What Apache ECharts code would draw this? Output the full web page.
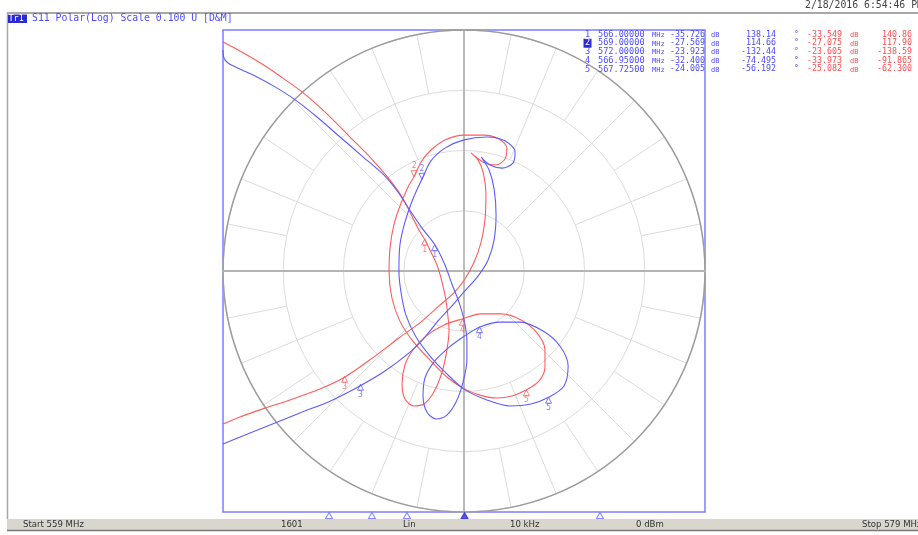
<!DOCTYPE html>
<html><head><meta charset="utf-8">
<script src="https://cdn.jsdelivr.net/npm/echarts@6/dist/echarts.min.js"></script>
<style>html,body{margin:0;padding:0;background:#fff}#c{width:918px;height:535px}</style>
</head><body><div id="c"></div>
<script>
// ---------- data ----------
const startFreqMHz = 559, stopFreqMHz = 579;
const fullScaleMilliU = 100;               // Scale 0.100 U (values below in mU)
const gridCircles = [25, 50, 75, 100];
const markerIds = [1, 2, 3, 4, 5];
const markerFreqMHz = [566, 569, 572, 566.95, 567.725];
const blueMagDb = [-35.726, -27.569, -23.923, -32.400, -24.005];
const bluePhaseDeg = [138.14, 114.66, -132.44, -74.495, -56.192];
const redMagDb = [-33.549, -27.075, -23.605, -33.973, -25.082];
const redPhaseDeg = [140.86, 117.90, -138.59, -91.865, -62.300];
const activeMarker = 2;
const statusTexts = ['Start 559 MHz', '1601', 'Lin', '10 kHz', '0 dBm', 'Stop 579 MHz'];

// S11 traces, [real, imag] in mU
const redTrace = [[-100.0,95.0],[-93.0,91.3],[-85.1,86.7],[-76.4,80.9],[-67.2,74.3],[-57.3,65.6],[-47.7,56.0],[-39.0,47.3],[-31.1,38.2],[-25.7,30.7],[-21.6,22.8],[-18.7,17.0],[-16.2,12.9],[-13.7,7.9],[-11.2,2.5],[-9.1,-4.6],[-7.5,-12.0],[-6.6,-19.5],[-6.2,-24.5],[-7.1,-32.8],[-9.1,-41.9],[-12.5,-50.2],[-16.6,-55.2],[-20.8,-56.0],[-24.5,-53.1],[-25.7,-46.9],[-24.5,-39.0],[-21.2,-32.8],[-15.8,-27.0],[-8.3,-22.4],[-0.8,-19.9],[7.1,-17.8],[15.4,-17.8],[23.7,-20.3],[30.3,-25.7],[33.6,-32.8],[33.6,-39.8],[31.1,-45.7],[25.7,-49.4],[19.9,-51.9],[13.7,-52.7],[6.6,-51.5],[-0.4,-48.6],[-7.1,-44.0],[-13.3,-37.8],[-21.2,-29.1],[-26.6,-20.8],[-29.9,-11.2],[-31.1,0],[-30.7,9.5],[-29.1,19.1],[-26.1,28.2],[-22.8,35.7],[-20.8,39.0],[-17.8,45.2],[-13.7,50.2],[-7.9,54.4],[0,56.4],[8.3,56.4],[14.5,54.8],[17.8,51.0],[17.0,46.5],[13.3,44.0],[8.7,44.8],[5.0,47.3],[2.9,49.0],[5.8,46.1],[7.9,41.1],[9.1,31.5],[8.7,21.2],[7.1,12.0],[4.2,3.7],[0.4,-3.3],[-4.2,-9.1],[-10.4,-14.5],[-17.4,-20.8],[-27.0,-27.8],[-36.9,-35.3],[-49.4,-44.0],[-59.8,-49.0],[-72.2,-53.5],[-82.6,-56.9],[-93.0,-60.6],[-100.0,-63.5]];
const blueTrace = [[-100.0,91.7],[-99.6,88.4],[-97.9,86.3],[-93.0,83.8],[-86.7,80.9],[-78.4,76.4],[-70.6,71.4],[-61.0,63.9],[-51.9,56.0],[-42.3,47.7],[-32.8,39.4],[-27.4,32.8],[-22.8,25.7],[-17.4,17.8],[-12.0,10.8],[-7.9,2.5],[-5.0,-5.4],[-2.1,-12.9],[0,-20.3],[1.2,-28.6],[1.2,-36.9],[-0.4,-46.1],[-3.3,-54.4],[-7.1,-59.8],[-11.6,-61.4],[-15.4,-58.5],[-17.0,-51.9],[-16.2,-44.4],[-12.5,-37.8],[-6.6,-32.0],[-0.4,-27.4],[6.6,-23.2],[14.9,-21.2],[23.2,-21.2],[32.8,-24.9],[39.8,-31.1],[43.2,-39.4],[41.5,-47.7],[35.3,-52.3],[27.8,-55.2],[19.1,-56.0],[9.5,-53.5],[0,-49.0],[-7.5,-42.3],[-14.1,-35.3],[-19.9,-27.4],[-24.1,-18.3],[-26.1,-9.1],[-27.0,0],[-26.6,10.8],[-24.5,20.3],[-21.2,29.9],[-17.4,38.2],[-13.7,45.7],[-7.9,51.0],[0,54.4],[9.5,55.6],[17.0,54.0],[21.2,49.4],[20.3,44.8],[15.8,42.7],[10.8,44.0],[7.1,47.3],[10.4,41.9],[12.5,34.0],[13.3,23.2],[12.5,12.9],[10.0,4.6],[5.8,-2.1],[0,-8.7],[-5.0,-14.5],[-10.4,-20.3],[-16.2,-27.4],[-22.8,-34.0],[-32.8,-41.5],[-43.2,-47.7],[-55.6,-54.0],[-68.1,-58.9],[-78.4,-63.1],[-88.8,-67.2],[-100.0,-71.8]];

// ---------- styling ----------
const RED = '#ff5c5c', BLUE = '#5c5cff';
const RED_T = '#ff4d4d', BLUE_T = '#4b4bff';
const MONO = '"DejaVu Sans Mono", monospace';
const CX = 464, CY = 271, R = 241;

function markerPoints(magDb, phDeg) {
  return markerIds.map((id, i) => {
    const m = 1000 * Math.pow(10, magDb[i] / 20);
    const a = phDeg[i] * Math.PI / 180;
    const up = id === activeMarker;
    return {
      value: [m * Math.cos(a), m * Math.sin(a)], name: String(id),
      symbolRotate: up ? 180 : 0, symbolOffset: [0, up ? -3 : 3],
      label: { position: up ? 'top' : 'bottom' }
    };
  });
}

const chart = echarts.init(document.getElementById('c'), null, { renderer: 'canvas' });

const hiddenAxis = { axisLine: { show: false }, axisTick: { show: false }, axisLabel: { show: false }, splitLine: { show: false } };

const rings = [
  { radius: [0, R], interval: 90, spokes: false },
  { radius: [R * 0.75, R], interval: 11.25, spokes: true },
  { radius: [R * 0.5, R * 0.75], interval: 22.5, spokes: true },
  { radius: [R * 0.25, R * 0.5], interval: 45, spokes: true }
];

const polar = rings.map(r => ({ center: [CX, CY], radius: r.radius }));
const angleAxis = rings.map((r, i) => Object.assign({}, hiddenAxis, {
  polarIndex: i, type: 'value', min: 0, max: 360, interval: r.interval, startAngle: 0, z: 0,
  axisLine: { show: i === 0, lineStyle: { color: '#9c9c9c', width: 1.5 } },
  splitLine: { show: r.spokes, lineStyle: { color: '#dcdcdc', width: 1 } }
}));
const radiusAxis = rings.map((r, i) => Object.assign({}, hiddenAxis, {
  polarIndex: i, type: 'value', min: 0, max: i === 0 ? fullScaleMilliU : 1,
  interval: i === 0 ? gridCircles[0] : 1, z: 0,
  splitLine: { show: i === 0, lineStyle: { color: '#dcdcdc', width: 1 } }
}));

const graphic = [];
function txt(text, x, y, fill, size, opts) {
  graphic.push({ type: 'text', z: 10, style: Object.assign({ text, x, y, fill, fontSize: size, fontFamily: MONO, align: 'left', verticalAlign: 'middle' }, opts || {}) });
}
// window frame
graphic.push({ type: 'line', z: 10, shape: { x1: 7, y1: 13, x2: 918, y2: 13 }, style: { stroke: '#a8a8a8', lineWidth: 2 } });
graphic.push({ type: 'line', z: 10, shape: { x1: 7.5, y1: 13, x2: 7.5, y2: 519 }, style: { stroke: '#a8a8a8', lineWidth: 1.5 } });
graphic.push({ type: 'rect', z: 9, shape: { x: 7, y: 519, width: 911, height: 11 }, style: { fill: '#d9d6ce' } });
graphic.push({ type: 'line', z: 10, shape: { x1: 7, y1: 530.5, x2: 918, y2: 530.5 }, style: { stroke: '#7a7a7a', lineWidth: 1.5 } });
// date
txt('2/18/2016 6:54:46 PM', 805, 5, '#444', 9.8);
// header
graphic.push({ type: 'rect', z: 10, shape: { x: 8, y: 14.5, width: 19, height: 8.5 }, style: { fill: '#2a2ad8' } });
txt('Tr1', 8.5, 19, '#fff', 8.5);
txt('S11 Polar(Log) Scale 0.100 U [D&M]', 32, 18.5, BLUE_T, 9.8);
// marker table
markerIds.forEach((id, i) => {
  const y = 34.5 + i * 8.7;
  if (id === activeMarker) {
    graphic.push({ type: 'rect', z: 10, shape: { x: 583.5, y: y - 4.5, width: 8, height: 9 }, style: { fill: '#2a2ad8' } });
    txt(String(id), 585, y, '#fff', 8.6);
  } else {
    txt(String(id), 585, y, BLUE_T, 8.6);
  }
  txt(markerFreqMHz[i].toFixed(5), 598, y, BLUE_T, 8.6);
  txt('MHz', 652, y + 0.5, BLUE_T, 7);
  txt(blueMagDb[i].toFixed(3), 670, y, BLUE_T, 8.3);
  txt('dB', 711, y + 0.5, BLUE_T, 7);
  txt(bluePhaseDeg[i].toPrecision(5), 776, y, BLUE_T, 8.3, { align: 'right' });
  txt('°', 794, y, BLUE_T, 8);
  txt(redMagDb[i].toFixed(3), 807, y, RED_T, 8.3);
  txt('dB', 850, y + 0.5, RED_T, 7);
  txt(redPhaseDeg[i].toPrecision(5), 912, y, RED_T, 8.3, { align: 'right' });
});
// status bar
const statusX = [23, 281, 403, 510, 636, 862];
statusTexts.forEach((t, i) => graphic.push({ type: 'text', z: 11, style: { text: t, x: statusX[i], y: 525, fill: '#333', fontSize: 9.5, fontFamily: '"DejaVu Sans Condensed", "DejaVu Sans", sans-serif', verticalAlign: 'middle' } }));

const markerSeries = (data, color) => ({
  type: 'scatter', xAxisIndex: 0, yAxisIndex: 0, z: 4, data,
  symbol: 'triangle', symbolSize: [6, 6],
  itemStyle: { color: 'rgba(255,255,255,0)', borderColor: color, borderWidth: 1 },
  label: { show: true, formatter: '{b}', color, fontSize: 8, fontFamily: MONO, distance: 0 },
  silent: true, animation: false
});

chart.setOption({
  animation: false,
  backgroundColor: '#fff',
  grid: [
    { left: CX - R, top: CY - R, width: 2 * R, height: 2 * R, show: true, borderColor: '#7d7dff', borderWidth: 1.5, backgroundColor: 'transparent' },
    { left: 13, top: 512, width: 903, height: 7 }
  ],
  xAxis: [
    { gridIndex: 0, type: 'value', min: -fullScaleMilliU, max: fullScaleMilliU, z: 1, axisLine: { show: true, onZero: true, lineStyle: { color: '#b4b4b4', width: 2 } }, axisTick: { show: false }, axisLabel: { show: false }, splitLine: { show: false } },
    { gridIndex: 1, type: 'value', min: startFreqMHz, max: stopFreqMHz, show: false }
  ],
  yAxis: [
    { gridIndex: 0, type: 'value', min: -fullScaleMilliU, max: fullScaleMilliU, z: 1, axisLine: { show: true, onZero: true, lineStyle: { color: '#a8a8a8', width: 1.5 } }, axisTick: { show: false }, axisLabel: { show: false }, splitLine: { show: false } },
    { gridIndex: 1, type: 'value', min: 0, max: 1, show: false }
  ],
  polar, angleAxis, radiusAxis,
  graphic,
  series: [
    { type: 'line', name: 'mem', xAxisIndex: 0, yAxisIndex: 0, z: 3, data: redTrace, showSymbol: false, smooth: 0.3, clip: true, lineStyle: { color: RED, width: 1.1 } },
    { type: 'line', name: 'data', xAxisIndex: 0, yAxisIndex: 0, z: 3, data: blueTrace, showSymbol: false, smooth: 0.3, clip: true, lineStyle: { color: BLUE, width: 1.1 } },
    markerSeries(markerPoints(redMagDb, redPhaseDeg), RED),
    markerSeries(markerPoints(blueMagDb, bluePhaseDeg), BLUE),
    {
      type: 'scatter', xAxisIndex: 1, yAxisIndex: 1, z: 4, silent: true,
      data: markerIds.map((id, i) => ({ value: [markerFreqMHz[i], 0.5], itemStyle: id === activeMarker ? { color: '#2a2ad8', borderColor: '#2a2ad8' } : {} })),
      symbol: 'triangle', symbolSize: [7, 6],
      itemStyle: { color: 'rgba(255,255,255,0)', borderColor: '#6a6aff', borderWidth: 1 }
    }
  ]
});
</script></body></html>
